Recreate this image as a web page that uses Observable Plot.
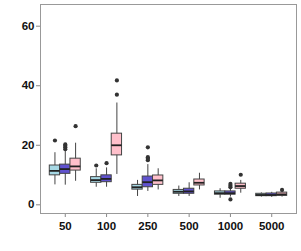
<!DOCTYPE html>
<html>
<head>
<meta charset="utf-8">
<script src="https://cdn.jsdelivr.net/npm/d3@7"></script>
<script src="https://cdn.jsdelivr.net/npm/@observablehq/plot@0.6"></script>
<style>
  body { margin: 0; background: #fff; }
  svg g[aria-label="x-axis tick"], svg g[aria-label="y-axis tick"] { stroke: #888; }
</style>
</head>
<body>
<div id="chart"></div>
<script>
const categories = ["50", "100", "250", "500", "1000", "5000"];
const groups = ["A", "B", "C"];
const groupColors = ["#a6d8e4", "#6052cf", "#ffc0cb"];
const yTicks = [0, 20, 40, 60];

// group A (light blue)
const aQ1 = [9.9, 7.4, 5.1, 3.7, 3.4, 2.9];
const aMed = [11.4, 8.3, 5.9, 4.4, 3.9, 3.3];
const aQ3 = [13.2, 9.3, 6.7, 5.0, 4.5, 3.7];
const aLo = [6.7, 5.9, 2.8, 2.8, 2.2, 2.6];
const aHi = [17.5, 12.1, 8.2, 6.3, 5.4, 4.0];
const aOut = [[21.6], [13.2], [], [], [], []];

// group B (slate blue)
const bQ1 = [10.4, 7.6, 5.9, 3.7, 3.4, 2.9];
const bMed = [12.0, 8.7, 7.6, 4.5, 3.9, 3.3];
const bQ3 = [13.5, 9.9, 9.5, 5.4, 4.5, 3.8];
const bLo = [6.6, 5.9, 4.5, 2.8, 2.6, 2.5];
const bHi = [18.0, 12.4, 13.5, 7.4, 5.5, 4.2];
const bOut = [[18.7, 19.3, 19.8, 20.3], [14.0], [15.0, 15.5, 16.0, 19.3], [], [5.9, 6.4, 7.0, 1.8], []];

// group C (pink)
const cQ1 = [11.5, 16.6, 6.7, 6.5, 5.4, 3.0];
const cMed = [12.9, 20.0, 8.2, 7.4, 6.3, 3.5];
const cQ3 = [15.5, 23.9, 9.85, 8.5, 7.1, 4.1];
const cLo = [7.9, 10.2, 5.0, 5.0, 3.9, 2.6];
const cHi = [20.7, 34.2, 12.1, 10.6, 8.2, 4.6];
const cOut = [[26.4], [37.0, 41.8], [], [], [10.1], [5.0]];

const stats = [
  {q1: aQ1, med: aMed, q3: aQ3, lo: aLo, hi: aHi, out: aOut},
  {q1: bQ1, med: bMed, q3: bQ3, lo: bLo, hi: bHi, out: bOut},
  {q1: cQ1, med: cMed, q3: cQ3, lo: cLo, hi: cHi, out: cOut}
];

const dodge = 0.25;
const boxes = [];
const outliers = [];
groups.forEach((g, gi) => {
  const s = stats[gi];
  categories.forEach((c, ci) => {
    const pos = ci + 1 + (gi - 1) * dodge;
    boxes.push({group: g, pos, x1: pos - dodge / 2, x2: pos + dodge / 2,
      q1: s.q1[ci], med: s.med[ci], q3: s.q3[ci], lo: s.lo[ci], hi: s.hi[ci]});
    s.out[ci].forEach(v => outliers.push({group: g, pos, value: v}));
  });
});

const chart = Plot.plot({
  width: 301,
  height: 251,
  marginLeft: 40,
  marginRight: 5,
  marginTop: 4,
  marginBottom: 38,
  style: {fontFamily: "'Liberation Sans', Arial, sans-serif", fontSize: "11.5px", fontWeight: "bold", color: "#111", background: "#fff"},
  x: {domain: [0.4, 6.6], ticks: d3.range(1, categories.length + 1), tickFormat: i => categories[i - 1], tickSize: 4, tickPadding: 4, label: null},
  y: {domain: [-2.92, 67.29], ticks: yTicks, tickSize: 4, tickPadding: 2, label: null},
  color: {domain: groups, range: groupColors},
  marks: [
    Plot.ruleX(boxes, {x: "pos", y1: "lo", y2: "hi", stroke: "#444", strokeWidth: 1}),
    Plot.rect(boxes, {x1: "x1", x2: "x2", y1: "q1", y2: "q3", fill: "group", stroke: "#444", strokeWidth: 1}),
    Plot.ruleY(boxes, {x1: "x1", x2: "x2", y: "med", stroke: "#222", strokeWidth: 1.8}),
    Plot.dot(outliers, {x: "pos", y: "value", r: 2.1, fill: "#333", stroke: null}),
    Plot.frame({stroke: "#999", strokeWidth: 1})
  ]
});
document.getElementById("chart").appendChild(chart);
</script>
</body>
</html>
